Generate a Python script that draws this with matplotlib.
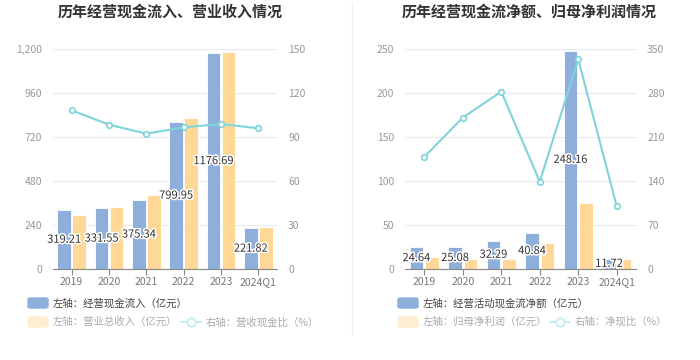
import matplotlib.pyplot as plt
from matplotlib.patches import FancyBboxPatch
from matplotlib.lines import Line2D
import matplotlib.patheffects as pe
import numpy as np

plt.rcParams['font.family'] = ['Noto Sans CJK SC', 'DejaVu Sans']

years = ['2019', '2020', '2021', '2022', '2023', '2024Q1']

# left chart
cash_in = [319.21, 331.55, 375.34, 799.95, 1176.69, 221.82]
revenue = [294.5, 336.0, 405.0, 825.0, 1185.0, 231.0]
cash_ratio = [108.2, 98.4, 92.3, 96.6, 98.9, 95.9]

# right chart
net_cash = [24.64, 25.08, 32.29, 40.84, 248.16, 11.72]
net_profit = [14.0, 11.0, 11.7, 29.9, 74.6, 11.7]
net_ratio = [178.2, 240.8, 282.1, 138.9, 333.6, 99.7]

BLUE = '#8eaedc'
ORANGE = '#ffd796'
CYAN = '#7fd4d9'
W, H = 700, 360

fig = plt.figure(figsize=(7, 3.6), dpi=100)


def panel(rect, title, tx, bars1, bars2, line, lmax, lstep, rmax, rstep, leg):
    x0, x1, y0, y1 = rect
    ax = fig.add_axes([x0 / W, 1 - y1 / H, (x1 - x0) / W, (y1 - y0) / H])
    x = np.arange(len(years))
    ax.bar(x - 0.2, bars1, width=0.36, color=BLUE, edgecolor='white', linewidth=0.6, zorder=2)
    ax.bar(x + 0.2, bars2, width=0.36, color=ORANGE, edgecolor='white', linewidth=0.6, zorder=2)
    for xi, v in zip(x, bars1):
        ax.text(xi - 0.2, v / 2, f'{v:.2f}', ha='center', va='center', fontsize=8,
                color='#333333', zorder=5,
                path_effects=[pe.withStroke(linewidth=2.2, foreground='white')])
    ax.set_xlim(-0.5, len(years) - 0.5)
    ax.set_ylim(0, lmax)
    ax.set_yticks(np.arange(0, lmax + 1, lstep))
    ax.yaxis.set_major_formatter(plt.FuncFormatter(lambda v, p: f'{v:,.0f}'))
    ax.set_xticks(x)
    ax.set_xticklabels(years)
    ax.grid(axis='y', color='#e6e8f2', linewidth=0.8, zorder=0)
    for s in ['top', 'right', 'left']:
        ax.spines[s].set_visible(False)
    ax.spines['bottom'].set_color('#888888')
    ax.tick_params(axis='y', length=0, labelsize=7.5, labelcolor='#999999', pad=8)
    ax.tick_params(axis='x', length=4, color='#888888', labelsize=7.5,
                   labelcolor='#777777', pad=2)

    # line on the right axis, drawn over the bars
    ax2 = ax.twinx()
    ax2.plot(x, line, color=CYAN, linewidth=1.5, marker='o', markersize=4,
             markerfacecolor='white', markeredgecolor=CYAN, markeredgewidth=1.2, zorder=4)
    ax2.set_ylim(0, rmax)
    ax2.set_yticks(np.arange(0, rmax + 1, rstep))
    for s in ax2.spines.values():
        s.set_visible(False)
    ax2.tick_params(axis='y', length=0, labelsize=7.5, labelcolor='#999999', pad=8)

    fig.text(tx / W, 1 - 12 / H, title, ha='center', va='center',
             fontsize=10.8, fontweight='bold', color='#333333')

    # legend
    lx, l2x = leg
    fig.patches.append(FancyBboxPatch((lx / W, 1 - 308 / H), 20 / W, 10 / H,
                                      boxstyle='round,pad=0,rounding_size=0.004',
                                      transform=fig.transFigure, color=BLUE))
    fig.text((lx + 25) / W, 1 - 303 / H, leg_texts[title][0], va='center',
             fontsize=7.5, color='#444444')
    fig.patches.append(FancyBboxPatch((lx / W, 1 - 327 / H), 20 / W, 10 / H,
                                      boxstyle='round,pad=0,rounding_size=0.004',
                                      transform=fig.transFigure, color='#ffedd0'))
    fig.text((lx + 25) / W, 1 - 322 / H, leg_texts[title][1], va='center',
             fontsize=7.5, color='#aaaaaa')
    fig.lines.append(Line2D([l2x / W, (l2x + 20) / W], [1 - 322 / H] * 2,
                            transform=fig.transFigure, color='#c5ecee', linewidth=1.3,
                            zorder=3))
    fig.lines.append(Line2D([(l2x + 10) / W], [1 - 322 / H], transform=fig.transFigure,
                            marker='o', markersize=6, markerfacecolor='white',
                            markeredgecolor='#c5ecee', markeredgewidth=1.3,
                            linestyle='none', zorder=4))
    fig.text((l2x + 25) / W, 1 - 322 / H, leg_texts[title][2], va='center',
             fontsize=7.5, color='#aaaaaa')


t1 = '历年经营现金流入、营业收入情况'
t2 = '历年经营现金流净额、归母净利润情况'
leg_texts = {
    t1: ['左轴：经营现金流入（亿元）', '左轴：营业总收入（亿元）', '右轴：营收现金比（%）'],
    t2: ['左轴：经营活动现金流净额（亿元）', '左轴：归母净利润（亿元）', '右轴：净现比（%）'],
}

panel((53, 277, 49, 269), t1, 170, cash_in, revenue, cash_ratio, 1200, 240, 150, 30, (28, 181))
panel((405, 636, 49, 269), t2, 529, net_cash, net_profit, net_ratio, 250, 50, 350, 70, (398, 550))

fig.lines.append(Line2D([352 / W, 352 / W], [1 - 2 / H, 1 - 335 / H],
                        transform=fig.transFigure, color='#f0f0f0', linewidth=1))

fig.savefig('out.png', dpi=100)
